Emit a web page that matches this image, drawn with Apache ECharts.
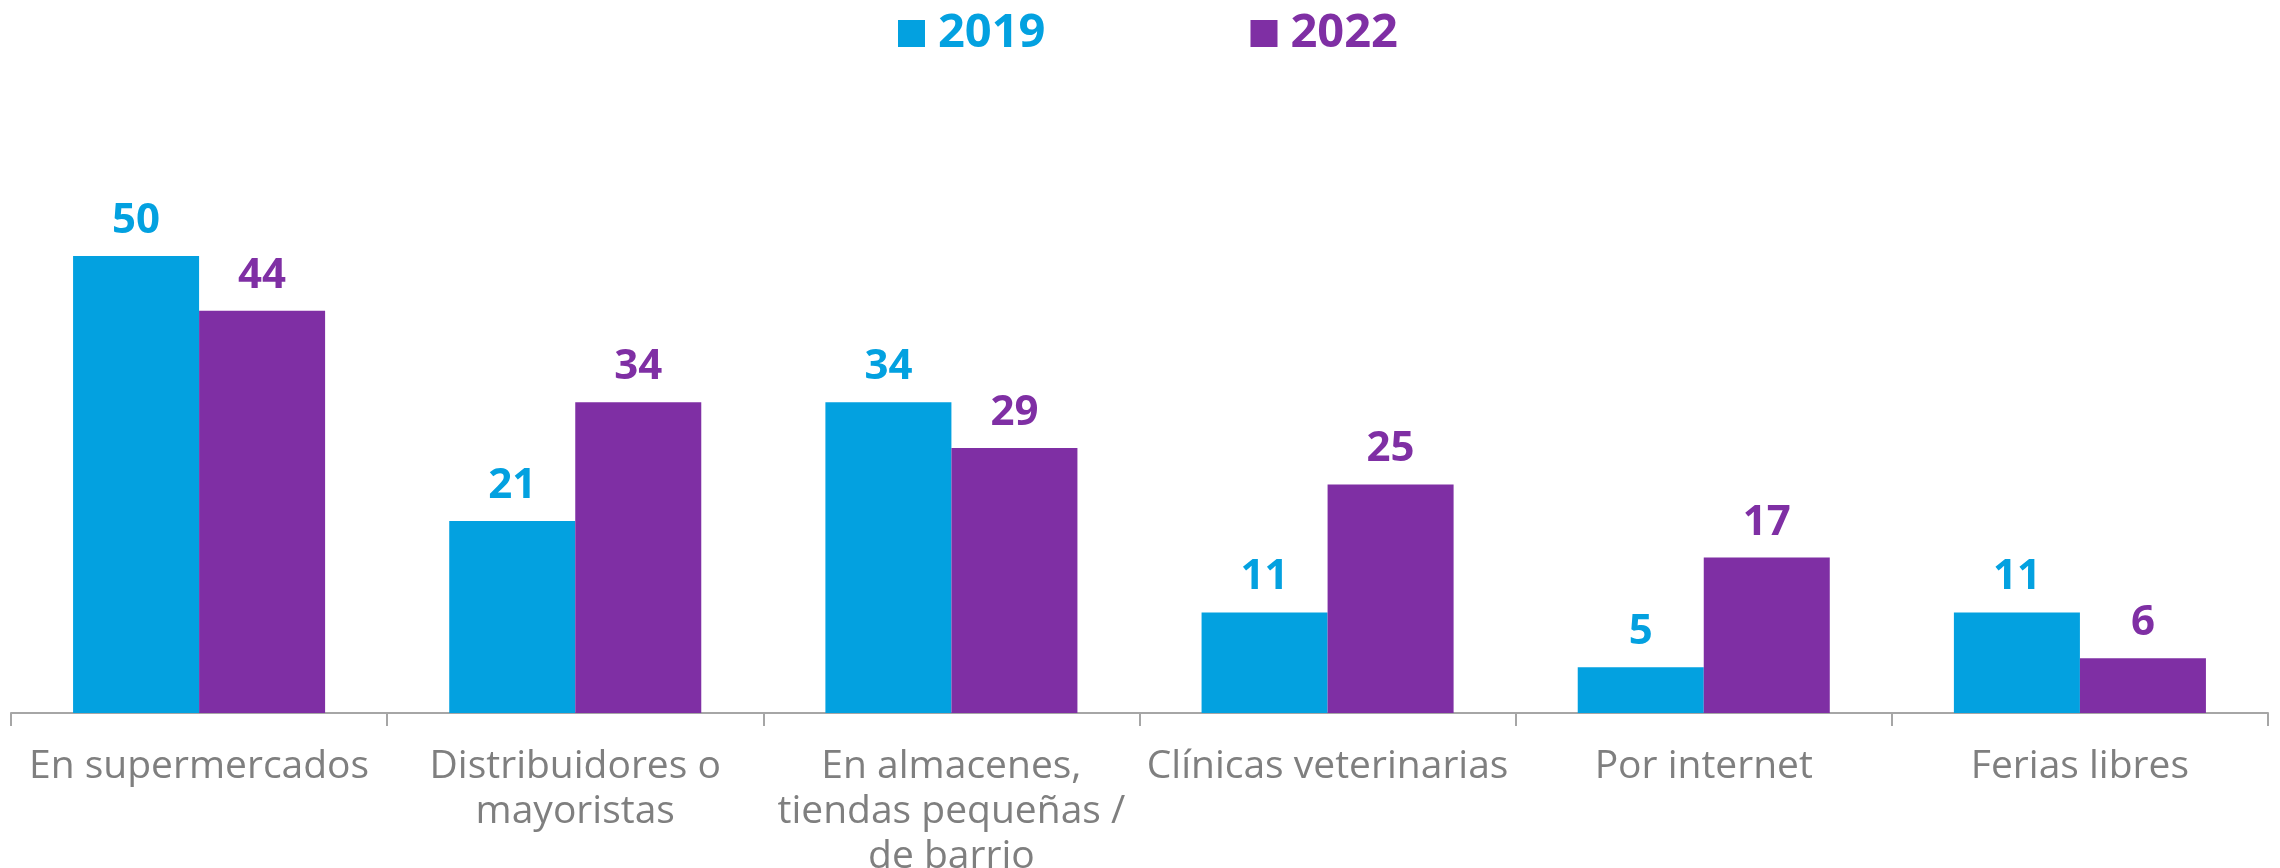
<!DOCTYPE html>
<html>
<head>
<meta charset="utf-8">
<script src="https://cdn.jsdelivr.net/npm/echarts@6/dist/echarts.min.js"></script>
<style>
  html, body { margin: 0; padding: 0; background: #ffffff; }
  #chart_main { width: 2280px; height: 868px; }
</style>
</head>
<body>
<div id="chart_main"></div>
<script>
var categories = [
    'En supermercados',
    'Distribuidores o\nmayoristas',
    'En almacenes,\ntiendas pequeñas /\nde barrio',
    'Clínicas veterinarias',
    'Por internet',
    'Ferias libres'
];
var seriesNames = ['2019', '2022'];
var values2019 = [50, 21, 34, 11, 5, 11];
var values2022 = [44, 34, 29, 25, 17, 6];

var colorBlue = '#03a1e0';
var colorPurple = '#7f2fa4';
var fontName = 'Open Sans';

var chart_main = echarts.init(document.getElementById('chart_main'));

function barLabel(color) {
    return {
        show: true,
        position: 'top',
        distance: 14,
        color: color,
        fontFamily: fontName,
        fontWeight: 'bold',
        fontSize: 42
    };
}

var option = {
    animation: false,
    legend: {
        data: seriesNames,
        left: 893,
        top: 5,
        itemWidth: 27,
        itemHeight: 27,
        itemGap: 205,
        icon: 'rect',
        textStyle: {
            fontFamily: fontName,
            fontWeight: 'bold',
            fontSize: 47,
            lineHeight: 47,
            color: 'inherit',
            padding: [0, 0, 0, 8]
        }
    },
    grid: {
        left: 11,
        right: 12,
        top: 256,
        bottom: 155,
        outerBoundsMode: 'none',
        containLabel: false
    },
    xAxis: {
        type: 'category',
        data: categories,
        axisLine: {
            lineStyle: { color: '#a6a6a6', width: 2 }
        },
        axisTick: {
            show: true,
            length: 13,
            lineStyle: { color: '#a6a6a6', width: 2 }
        },
        axisLabel: {
            interval: 0,
            margin: 31,
            color: '#7f7f7f',
            fontFamily: fontName,
            fontSize: 39,
            lineHeight: 45
        }
    },
    yAxis: {
        type: 'value',
        min: 0,
        max: 50,
        show: false,
        splitLine: { show: false }
    },
    series: [
        {
            name: seriesNames[0],
            type: 'bar',
            barGap: '0%',
            barCategoryGap: '33%',
            itemStyle: { color: colorBlue },
            label: barLabel(colorBlue),
            data: values2019
        },
        {
            name: seriesNames[1],
            type: 'bar',
            itemStyle: { color: colorPurple },
            label: barLabel(colorPurple),
            data: values2022
        }
    ]
};

chart_main.setOption(option);
</script>
</body>
</html>
